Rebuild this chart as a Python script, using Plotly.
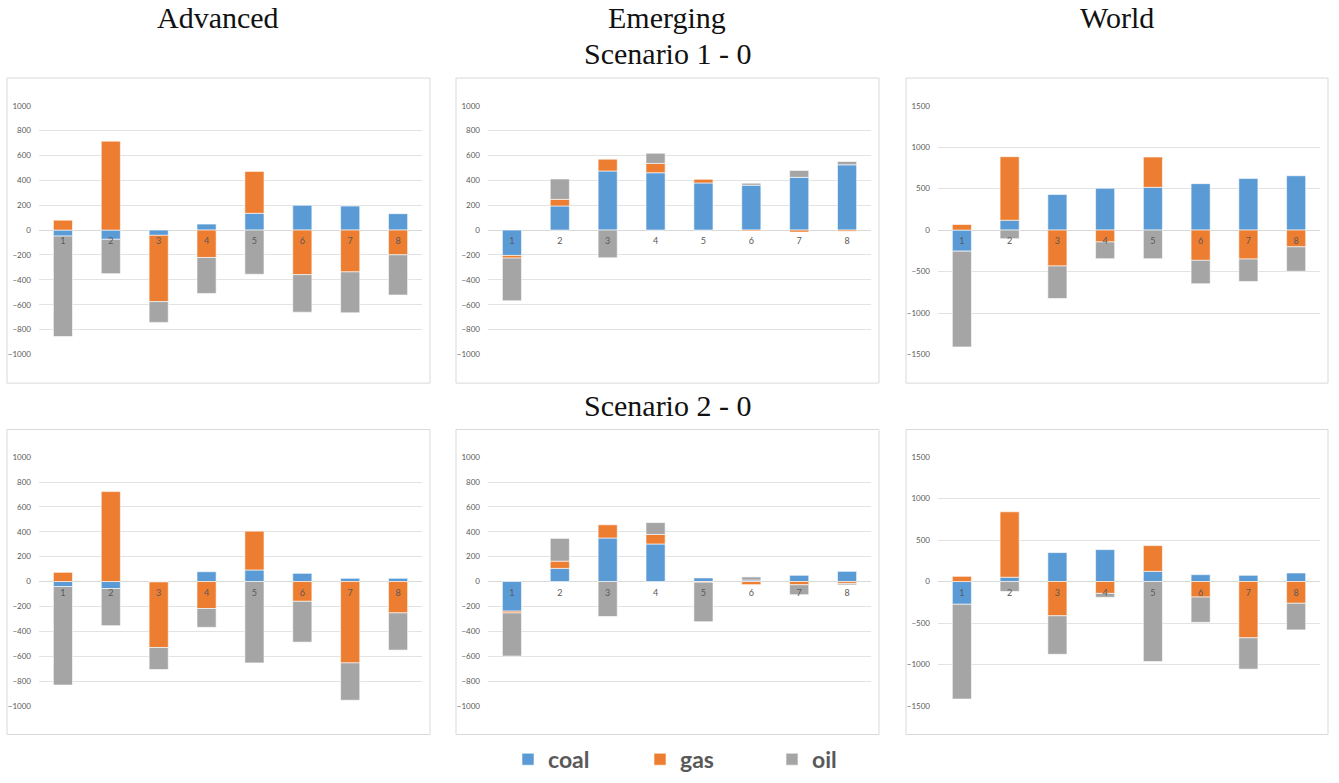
import plotly.graph_objects as go

W, H = 1339, 783

categories = [1, 2, 3, 4, 5, 6, 7, 8]
cat_labels = ["1", "2", "3", "4", "5", "6", "7", "8"]
series_names = ["coal", "gas", "oil"]
series_colors = ["#5B9BD5", "#ED7D31", "#A5A5A5"]
col_titles = ["Advanced", "Emerging", "World"]
row_titles = ["Scenario 1 - 0", "Scenario 2 - 0"]

adv_s1_coal = [-48, -74, -42, 48, 135, 199, 193, 132]
adv_s1_gas = [80, 715, -533, -220, 337, -358, -336, -199]
adv_s1_oil = [-808, -276, -167, -289, -355, -302, -329, -323]

em_s1_coal = [-204, 194, 475, 461, 379, 361, 424, 525]
em_s1_gas = [-21, 53, 95, 75, 32, -8, -16, -10]
em_s1_oil = [-343, 164, -223, 82, 0, 16, 56, 26]

world_s1_coal = [-254, 119, 429, 504, 516, 560, 623, 655]
world_s1_gas = [67, 766, -433, -143, 365, -365, -349, -202]
world_s1_oil = [-1155, -103, -392, -202, -345, -282, -270, -294]

adv_s2_coal = [-40, -56, -3, 79, 93, 66, 26, 26]
adv_s2_gas = [74, 723, -527, -217, 312, -159, -654, -252]
adv_s2_oil = [-792, -299, -177, -151, -654, -328, -300, -299]

em_s2_coal = [-238, 106, 350, 302, 29, 12, 50, 82]
em_s2_gas = [-14, 58, 106, 77, -5, -25, -26, -15]
em_s2_oil = [-347, 183, -281, 95, -318, 25, -80, -12]

world_s2_coal = [-274, 52, 349, 385, 123, 83, 75, 103]
world_s2_gas = [63, 789, -413, -143, 310, -187, -679, -262]
world_s2_oil = [-1143, -119, -464, -47, -964, -305, -377, -321]

ytick_small = [-1000, -800, -600, -400, -200, 0, 200, 400, 600, 800, 1000]
ytick_world = [-1500, -1000, -500, 0, 500, 1000, 1500]

panels = [
    [(adv_s1_coal, adv_s1_gas, adv_s1_oil), (em_s1_coal, em_s1_gas, em_s1_oil), (world_s1_coal, world_s1_gas, world_s1_oil)],
    [(adv_s2_coal, adv_s2_gas, adv_s2_oil), (em_s2_coal, em_s2_gas, em_s2_oil), (world_s2_coal, world_s2_gas, world_s2_oil)],
]
panel_ticks = [ytick_small, ytick_small, ytick_world]

# layout geometry (pixels)
plot_x = [(39, 422), (488, 871), (938, 1320)]
plot_y = [(102, 354), (458, 710)]
box_x = [(7, 430), (456, 879), (906, 1328)]
box_y = [(74, 383), (430, 739)]

def fx(px):
    return px / W

def fy(py):
    return 1 - py / H

fig = go.Figure()
layout = dict(
    width=W, height=H,
    margin=dict(l=0, r=0, t=0, b=0),
    paper_bgcolor="white", plot_bgcolor="white",
    barmode="relative", bargap=0.6,
    showlegend=True,
    legend=dict(orientation="h", x=fx(508), xanchor="left", y=fy(764), yanchor="middle",
                font=dict(family="Lato", size=23, color="#595959", weight="bold"),
                entrywidth=87, entrywidthmode="pixels"),
    font=dict(family="Lato", color="#595959"),
)
shapes = []
annotations = []

idx = 0
for r in range(2):
    for c in range(3):
        idx += 1
        xa = "x" if idx == 1 else f"x{idx}"
        ya = "y" if idx == 1 else f"y{idx}"
        xkey = "xaxis" if idx == 1 else f"xaxis{idx}"
        ykey = "yaxis" if idx == 1 else f"yaxis{idx}"
        vals = panels[r][c]
        for s in range(3):
            fig.add_trace(go.Bar(
                x=categories, y=vals[s], name=series_names[s],
                marker=dict(color=series_colors[s], line=dict(color="white", width=0.6)),
                xaxis=xa, yaxis=ya, legendgroup=series_names[s],
                showlegend=(idx == 1),
            ))
        ticks = panel_ticks[c]
        y0, y1 = plot_y[r]
        layout[xkey] = dict(
            domain=[fx(plot_x[c][0]), fx(plot_x[c][1])],
            anchor="free", position=fy((y0 + y1) / 2),
            range=[0.5, 8.5], tickvals=categories, ticktext=cat_labels,
            showgrid=False, zeroline=False, showline=False, ticks="",
            tickfont=dict(family="Lato", size=9, color="#595959"),
            ticklabelstandoff=4, layer="above traces", fixedrange=True,
        )
        layout[ykey] = dict(
            domain=[fy(y1), fy(y0)], anchor=xa,
            range=[ticks[0], ticks[-1]], tickvals=ticks,
            showgrid=True, gridcolor="#E3E3E3", gridwidth=1,
            zeroline=True, zerolinecolor="#D9D9D9", zerolinewidth=1,
            showline=False, ticks="",
            tickfont=dict(family="Lato", size=8, color="#595959"),
            ticklabelstandoff=7, layer="below traces", fixedrange=True,
        )
        shapes.append(dict(type="rect", xref="paper", yref="paper",
                           x0=fx(box_x[c][0]), x1=fx(box_x[c][1]),
                           y0=fy(box_y[r][1]), y1=fy(box_y[r][0]),
                           line=dict(color="#D9D9D9", width=1), layer="below"))

title_font = dict(family="Liberation Serif", size=30, color="#111111")
col_centers = [218, 667, 1117]
for c in range(3):
    annotations.append(dict(text=col_titles[c], x=fx(col_centers[c]), y=fy(13), xref="paper", yref="paper",
                            xanchor="center", yanchor="middle", showarrow=False, font=title_font))
row_y = [49, 406]
for r in range(2):
    annotations.append(dict(text=row_titles[r], x=fx(667), y=fy(row_y[r]), xref="paper", yref="paper",
                            xanchor="center", yanchor="middle", showarrow=False, font=title_font))

layout["shapes"] = shapes
layout["annotations"] = annotations
fig.update_layout(**layout)
fig.write_html("out.html", config={"displayModeBar": False},
               post_script="document.body.style.margin='0px';document.body.style.overflow='hidden';")
